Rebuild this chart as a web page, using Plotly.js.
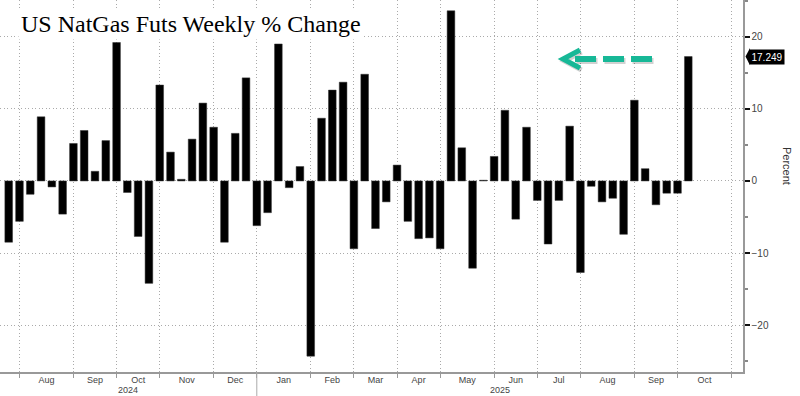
<!DOCTYPE html>
<html>
<head>
<meta charset="utf-8">
<script src="https://cdn.plot.ly/plotly-3.0.1.min.js"></script>
<style>html,body{margin:0;padding:0;background:#fff;}#chart{width:800px;height:396px;}</style>
</head>
<body>
<div id="chart"></div>
<script>
// Weekly (Friday) dates
const weekDates = [
  '2024-07-26','2024-08-02','2024-08-09','2024-08-16','2024-08-23','2024-08-30',
  '2024-09-06','2024-09-13','2024-09-20','2024-09-27',
  '2024-10-04','2024-10-11','2024-10-18','2024-10-25',
  '2024-11-01','2024-11-08','2024-11-15','2024-11-22','2024-11-29',
  '2024-12-06','2024-12-13','2024-12-20','2024-12-27',
  '2025-01-03','2025-01-10','2025-01-17','2025-01-24','2025-01-31',
  '2025-02-07','2025-02-14','2025-02-21','2025-02-28',
  '2025-03-07','2025-03-14','2025-03-21','2025-03-28',
  '2025-04-04','2025-04-11','2025-04-18','2025-04-25',
  '2025-05-02','2025-05-09','2025-05-16','2025-05-23','2025-05-30',
  '2025-06-06','2025-06-13','2025-06-20','2025-06-27',
  '2025-07-04','2025-07-11','2025-07-18','2025-07-25',
  '2025-08-01','2025-08-08','2025-08-15','2025-08-22','2025-08-29',
  '2025-09-05','2025-09-12','2025-09-19','2025-09-26',
  '2025-10-03','2025-10-10'
];
// Weekly % change
const pctChange = [
  -8.5, -5.6, -1.85, 8.9, -0.83, -4.6,
  5.2, 7.0, 1.34, 5.6,
  19.2, -1.6, -7.7, -14.2,
  13.3, 4.0, 0.23, 5.8, 10.8,
  7.45, -8.5, 6.6, 14.3,
  -6.2, -4.4, 19.0, -0.93, 2.0,
  -24.3, 8.7, 12.6, 13.7,
  -9.4, 14.8, -6.6, -2.9,
  2.2, -5.6, -8.0, -7.9,
  -9.4, 23.6, 4.6, -12.1, 0.1,
  3.4, 9.8, -5.3, 7.45,
  -2.7, -8.75, -2.7, 7.6,
  -12.7, -0.74, -2.9, -2.4, -7.4,
  11.2, 1.7, -3.3, -1.7,
  -1.7, 17.249
];
// First weekly bar of each month (grid lines)
const monthStarts = [
  '2024-08-02','2024-09-06','2024-10-04','2024-11-01','2024-12-06',
  '2025-01-03','2025-02-07','2025-03-07','2025-04-04','2025-05-02',
  '2025-06-06','2025-07-04','2025-08-01','2025-09-05','2025-10-03','2025-11-07'
];
const monthLabels = ['Aug','Sep','Oct','Nov','Dec','Jan','Feb','Mar','Apr','May','Jun','Jul','Aug','Sep','Oct'];
const yearLabels = ['2024','2025'];
const yearStart = '2025-01-03';
const yTickVals = [-20, -10, 0, 10, 20];

const xRange = ['2024-07-20 08:40:00', '2025-11-14 11:45:00'];
const yRange = [-26.5, 25.1];

function ms(d){ return Date.parse(d.replace(' ', 'T') + (d.length === 10 ? 'T00:00:00Z' : 'Z')); }
function fmt(t){ return new Date(t).toISOString().slice(0,19).replace('T',' '); }
const monthMids = monthLabels.map((_, i) => fmt((ms(monthStarts[i]) + ms(monthStarts[i+1])) / 2));
const yearMids = [
  fmt((ms(xRange[0]) + ms(yearStart)) / 2),
  fmt((ms(yearStart) + ms(xRange[1])) / 2)
];
const lastVal = pctChange[pctChange.length - 1];

const tickFont = {family: 'Liberation Sans, Arial, sans-serif', size: 10, color: '#444'};
const xTickFont = {family: 'Liberation Sans, Arial, sans-serif', size: 9, color: '#444'};
const gridDash = '1px,2.5px';
const teal = '#17b897';

const trace = {
  type: 'bar',
  x: weekDates,
  y: pctChange,
  marker: {color: '#000', line: {color: '#333', width: 0.5}},
  hoverinfo: 'x+y'
};

// helpers for the green arrow, in paper coords
const px = v => v / 743, py = v => (372 - v) / 372;
function arrowShapes(dx, dy, color){
  return [
    {type: 'line', xref: 'paper', yref: 'paper',
     x0: px(575 + dx), x1: px(654 + dx), y0: py(59 + dy), y1: py(59 + dy),
     line: {color: color, width: 6, dash: '21px,7px'}},
    {type: 'path', xref: 'paper', yref: 'paper',
     path: 'M' + px(580 + dx) + ',' + py(50 + dy) + ' L' + px(563 + dx) + ',' + py(59 + dy) + ' L' + px(580 + dx) + ',' + py(68 + dy),
     line: {color: color, width: 5}}
  ];
}

const layout = {
  width: 800, height: 396,
  margin: {l: 0, r: 57, t: 0, b: 24, pad: 0},
  paper_bgcolor: '#fff', plot_bgcolor: '#fff',
  showlegend: false,
  bargap: 0.29,
  font: tickFont,
  xaxis: {
    type: 'date',
    range: xRange,
    tickmode: 'array',
    tickvals: monthMids,
    ticktext: monthLabels,
    ticks: '',
    ticklabelstandoff: -2,
    showgrid: false,
    zeroline: false,
    showline: true, linecolor: '#999', linewidth: 2,
    tickfont: xTickFont,
    minor: {
      tickmode: 'array', tickvals: monthStarts,
      ticks: 'outside', ticklen: 4, tickcolor: '#999', tickwidth: 1,
      showgrid: true, gridcolor: '#aaa', gridwidth: 1, griddash: gridDash
    }
  },
  yaxis: {
    side: 'right',
    range: yRange,
    tickmode: 'array',
    tickvals: yTickVals,
    ticks: 'outside', ticklen: 5, tickwidth: 2, tickcolor: '#111',
    showgrid: true, gridcolor: '#aaa', gridwidth: 1, griddash: gridDash,
    zeroline: false,
    showline: true, linecolor: '#999', linewidth: 1.5,
    tickfont: tickFont,
    minor: {dtick: 5, tick0: 0, ticks: 'outside', ticklen: 3, tickcolor: '#888', showgrid: false}
  },
  shapes: [
    {type: 'line', xref: 'x', yref: 'paper', x0: yearStart, x1: yearStart, y0: -24/372, y1: 0,
     line: {color: '#aaa', width: 1}},
    ...arrowShapes(1.5, 2, 'rgba(0,0,0,0.18)'),
    ...arrowShapes(0, 0, teal),
    {type: 'path', xref: 'paper', yref: 'y',
     path: 'M' + (745.5/743) + ',' + lastVal + ' L' + (750/743) + ',' + (lastVal + 1.2) + ' L' + (750/743) + ',' + (lastVal - 1.2) + ' Z',
     fillcolor: '#000', line: {width: 0}}
  ],
  annotations: [
    {text: 'US NatGas Futs Weekly % Change', xref: 'paper', yref: 'paper',
     x: 18/743, y: py(24), xanchor: 'left', yanchor: 'middle', showarrow: false,
     bgcolor: '#fff', borderpad: 2,
     font: {family: 'Liberation Serif, Times New Roman, serif', size: 24, color: '#000'}},
    {text: lastVal.toFixed(3), xref: 'paper', yref: 'y', x: 749/743, y: lastVal,
     xanchor: 'left', yanchor: 'middle', showarrow: false,
     bgcolor: '#000', borderpad: 1.5,
     font: {family: 'Liberation Sans, Arial, sans-serif', size: 10, color: '#fff'}},
    {text: 'Percent', xref: 'paper', yref: 'paper', x: px(787), y: py(166),
     xanchor: 'center', yanchor: 'middle', textangle: 90, showarrow: false,
     font: {family: 'Liberation Sans, Arial, sans-serif', size: 11, color: '#333'}},
    ...yearLabels.map((t, i) => ({
      text: t, xref: 'x', yref: 'paper', x: yearMids[i], y: py(396),
      xanchor: 'center', yanchor: 'bottom', showarrow: false, borderpad: 0, font: xTickFont
    }))
  ]
};

Plotly.newPlot('chart', [trace], layout, {displayModeBar: false, staticPlot: true});
</script>
</body>
</html>
